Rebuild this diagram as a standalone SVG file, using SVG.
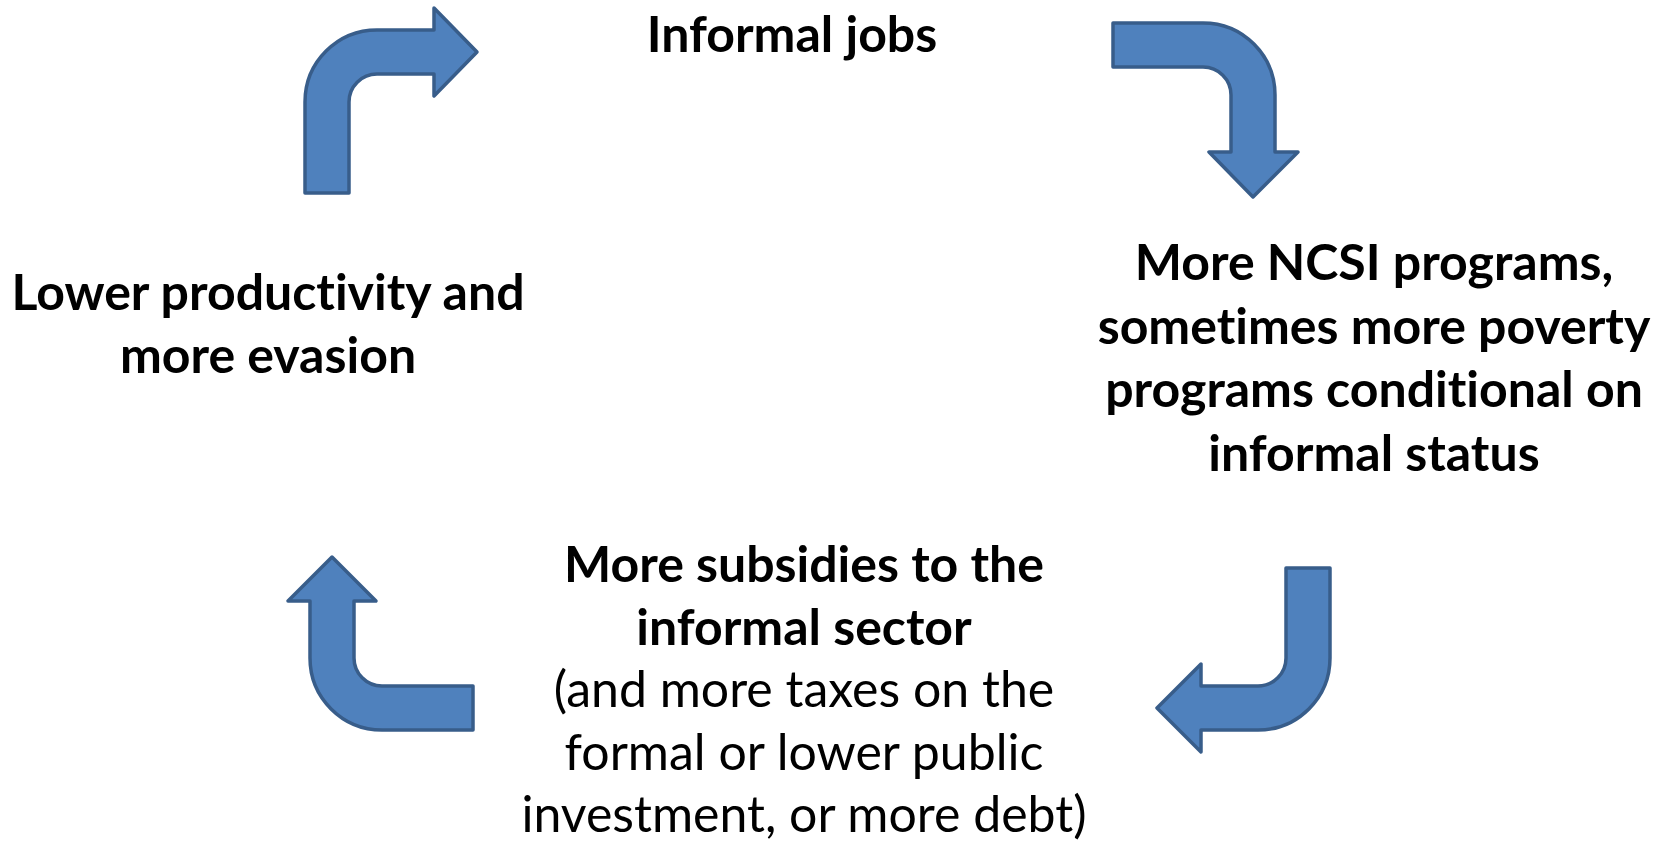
<svg xmlns="http://www.w3.org/2000/svg" width="1670" height="843" viewBox="0 0 1670 843">
<style>
.arrow{fill:#4F81BD;stroke:#385D8A;stroke-width:3.5;stroke-linejoin:round}
.t{font-family:Lato,"Noto Sans","Liberation Sans",sans-serif;font-size:50px;fill:#000;text-anchor:middle;font-variant-ligatures:none;font-feature-settings:"liga" 0,"clig" 0}
.b{font-weight:bold}
</style>
<rect width="1670" height="843" fill="#fff"/>
<g id="connectors">
<path class="arrow" d="M305,193 L305,102 A72,72 0 0 1 377,30 L434,30 L434,8 L477,52 L434,96 L434,74 L377,74 A28,28 0 0 0 349,102 L349,193 Z"/>
<path class="arrow" d="M1113,23 L1203,23 A72,72 0 0 1 1275,95 L1275,152 L1298,152 L1253,197 L1209,152 L1231,152 L1231,95 A28,28 0 0 0 1203,67 L1113,67 Z"/>
<path class="arrow" d="M1286,568 L1330,568 L1330,658 A72,72 0 0 1 1258,730 L1201,730 L1201,752 L1157,708 L1201,664 L1201,686 L1258,686 A28,28 0 0 0 1286,658 Z"/>
<path class="arrow" d="M473,730 L382,730 A72,72 0 0 1 310,658 L310,601 L288,601 L332,557 L376,601 L354,601 L354,658 A28,28 0 0 0 382,686 L473,686 Z"/>
</g>
<g id="node-informal-jobs">
<text class="t b" x="792" y="52" font-size="51">Informal jobs</text>
</g>
<g id="node-ncsi">
<text class="t b" x="1374" y="280">More NCSI programs,</text>
<text class="t b" x="1374" y="344">sometimes more poverty</text>
<text class="t b" x="1374" y="407">programs conditional on</text>
<text class="t b" x="1374" y="471">informal status</text>
</g>
<g id="node-subsidies">
<text class="t b" x="804" y="582">More subsidies to the</text>
<text class="t b" x="804" y="645">informal sector</text>
<text class="t" x="804" y="707">(and more taxes on the</text>
<text class="t" x="804" y="770">formal or lower public</text>
<text class="t" x="804" y="832">investment, or more debt)</text>
</g>
<g id="node-productivity">
<text class="t b" x="268" y="310">Lower productivity and</text>
<text class="t b" x="268" y="373">more evasion</text>
</g>
</svg>
